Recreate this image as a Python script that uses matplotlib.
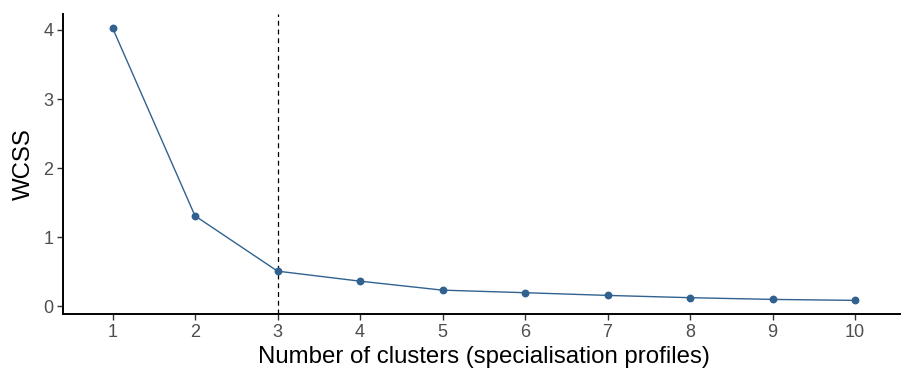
import matplotlib
matplotlib.use("Agg")
import matplotlib.pyplot as plt

plt.rcParams["font.family"] = ["Liberation Sans", "DejaVu Sans"]

# Elbow curve: within-cluster sum of squares per number of clusters
k_values = [1, 2, 3, 4, 5, 6, 7, 8, 9, 10]
wcss = [4.03, 1.31, 0.51, 0.365, 0.235, 0.198, 0.159, 0.126, 0.101, 0.087]
chosen_k = 3

line_color = "#31628F"

fig = plt.figure(figsize=(9.01, 3.71), dpi=100)
ax = fig.add_axes([63 / 901, 57 / 371, 841.5 / 901, 300 / 371])

ax.plot(k_values, wcss, color=line_color, lw=1.0, zorder=3)
ax.scatter(k_values, wcss, s=32, color=line_color, zorder=4, linewidths=0)
ax.axvline(chosen_k, color="black", lw=0.9, ls=(0, (4, 3)), zorder=2)

ax.set_xlim(0.4, 10.6)
ax.set_ylim(-0.11, 4.23)
ax.set_xticks(k_values)
ax.set_yticks([0, 1, 2, 3, 4])

for side in ("top", "right"):
    ax.spines[side].set_visible(False)
for side in ("left", "bottom"):
    ax.spines[side].set_linewidth(1.4)
    ax.spines[side].set_color("black")

ax.tick_params(axis="both", length=4, width=1.0, color="#333333",
               labelcolor="#4D4D4D", labelsize=13, pad=3)

ax.set_xlabel("Number of clusters (specialisation profiles)", fontsize=17.3, labelpad=4)
ax.set_ylabel("WCSS", fontsize=17.3, labelpad=6)

fig.savefig("out.png", dpi=100)
